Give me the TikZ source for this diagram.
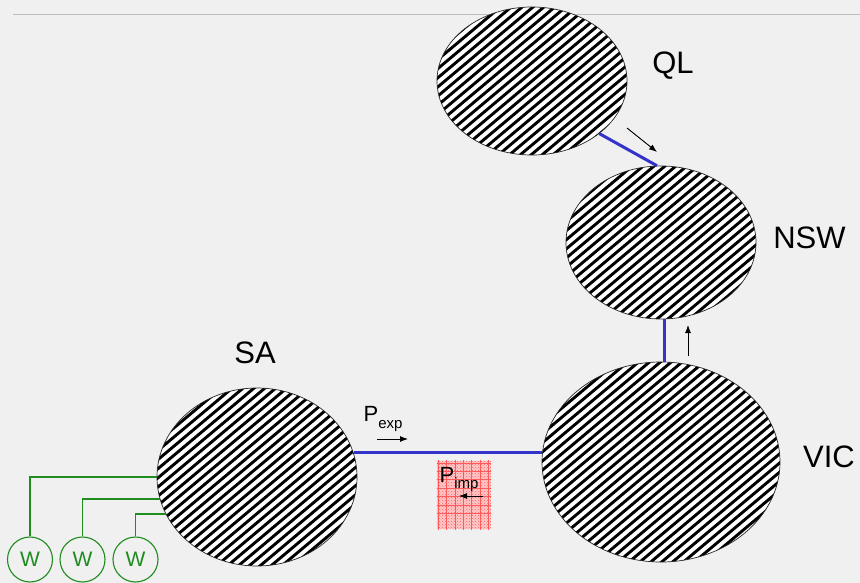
\documentclass[tikz,border=0pt]{standalone}
\usepackage{fontspec}
\setmainfont{Liberation Sans}
\usetikzlibrary{shapes.geometric,patterns,arrows.meta,calc}
\definecolor{bgcol}{HTML}{F0F0F0}
\definecolor{linkblue}{HTML}{3333CC}
\definecolor{wgreen}{HTML}{1E8C1E}
\definecolor{rulegray}{HTML}{BEBEBE}
\newcommand\regionfont{\fontsize{31}{36}\selectfont}
\newcommand\pfont{\fontsize{22}{24}\selectfont}
\newcommand\subfont{\fontsize{15}{16}\selectfont}
\begin{document}
\begin{tikzpicture}[x=1pt,y=-1pt,
  region/.style={ellipse, draw=black!85, line width=0.7pt, fill=white, inner sep=0pt,
    path picture={
      \foreach \k in {-30,...,30}
        \draw[line width=2.9pt, black]
          ($(path picture bounding box.center)+(50:\k*7)+(-40:-240)$) --
          ($(path picture bounding box.center)+(50:\k*7)+(-40:240)$);}},
  regionlabel/.style={anchor=base, inner sep=0pt, font=\regionfont},
  link/.style={linkblue, line width=3pt},
  flow/.style={black, line width=0.9pt, -{Latex[length=8pt,width=6pt]}},
  wind/.style={circle, draw=wgreen, line width=1.1pt, minimum size=45pt, inner sep=0pt,
    text=wgreen, font=\fontsize{21}{22}\selectfont},
  wline/.style={draw=wgreen, line width=1.1pt},
  impbox/.style={rectangle, fill=red!22, inner sep=0pt, minimum width=54pt, minimum height=68pt}
]
\useasboundingbox (0,0) rectangle (860,583);
\fill[bgcol] (0,0) rectangle (860,583);
% top rule
\coordinate (rl) at (13,15);
\coordinate (rr) at (860,15);
\draw[rulegray, line width=1pt] (rl) -- (rr);

% regions
\node[region, minimum width=190pt, minimum height=148pt] (ql) at (532,81) {};
\node[region, minimum width=190pt, minimum height=153pt] (nsw) at (661,242.5) {};
\node[region, minimum width=238pt, minimum height=200pt] (vic) at (661,462) {};
\node[region, minimum width=200pt, minimum height=178pt] (sa) at (257,477) {};

% labels
\node[regionlabel] (qllbl) at (673,74) {QL};
\node[regionlabel] (nswlbl) at (809.5,248) {NSW};
\node[regionlabel] (salbl) at (255,363) {SA};
\node[regionlabel] (viclbl) at (829,467) {VIC};

% interconnectors
\draw[link] (ql.-38) -- (nsw.93);
\draw[link] (vic.88) -- (vic.88 |- nsw.south);
\draw[link] (sa.14) -- (sa.14 -| vic.west);

% flow arrows
\coordinate (qa1) at (627,128);
\coordinate (qa2) at (657,152);
\draw[flow] (qa1) -- (qa2);
\coordinate (va1) at (688,356);
\coordinate (va2) at (688,325);
\draw[flow] (va1) -- (va2);

% P_exp
\node[anchor=base west, inner sep=0pt, font=\pfont] (pexp) at (363.5,421) {P\raisebox{-7pt}{\subfont exp}};
\coordinate (ea1) at (377,439);
\coordinate (ea2) at (408,439);
\draw[flow] (ea1) -- (ea2);

% P_imp box
\node[impbox] (imp) at (464,495) {};
\begin{scope}
  \clip (imp.south west) rectangle (imp.north east);
  \fill[pattern=crosshatch dots, pattern color=red!60] (imp.south west) rectangle (imp.north east);
  \foreach \i in {0,...,6} {
    \draw[red!65, line width=0.5pt] (438.3+\i*8.35,450) -- (438.3+\i*8.35,540);
    \draw[red!65, line width=0.5pt] (430,463+\i*8.35) -- (500,463+\i*8.35);
  }
\end{scope}
\node[anchor=base west, inner sep=0pt, font=\pfont] (pimp) at (439.5,482) {P\raisebox{-6pt}{\subfont imp}};
\coordinate (ia1) at (483,496);
\coordinate (ia2) at (459,496);
\draw[flow] (ia1) -- (ia2);

% wind farms
\node[wind] (w1) at (30,559.5) {W};
\node[wind] (w2) at (82.5,559.5) {W};
\node[wind] (w3) at (135.5,559.5) {W};
\coordinate (sa2) at (160,499);
\coordinate (sa3) at (166,514);
\draw[wline] (w1.north) |- (sa.west);
\draw[wline] (w2.north) |- (sa2);
\draw[wline] (w3.north) |- (sa3);
\end{tikzpicture}
\end{document}
